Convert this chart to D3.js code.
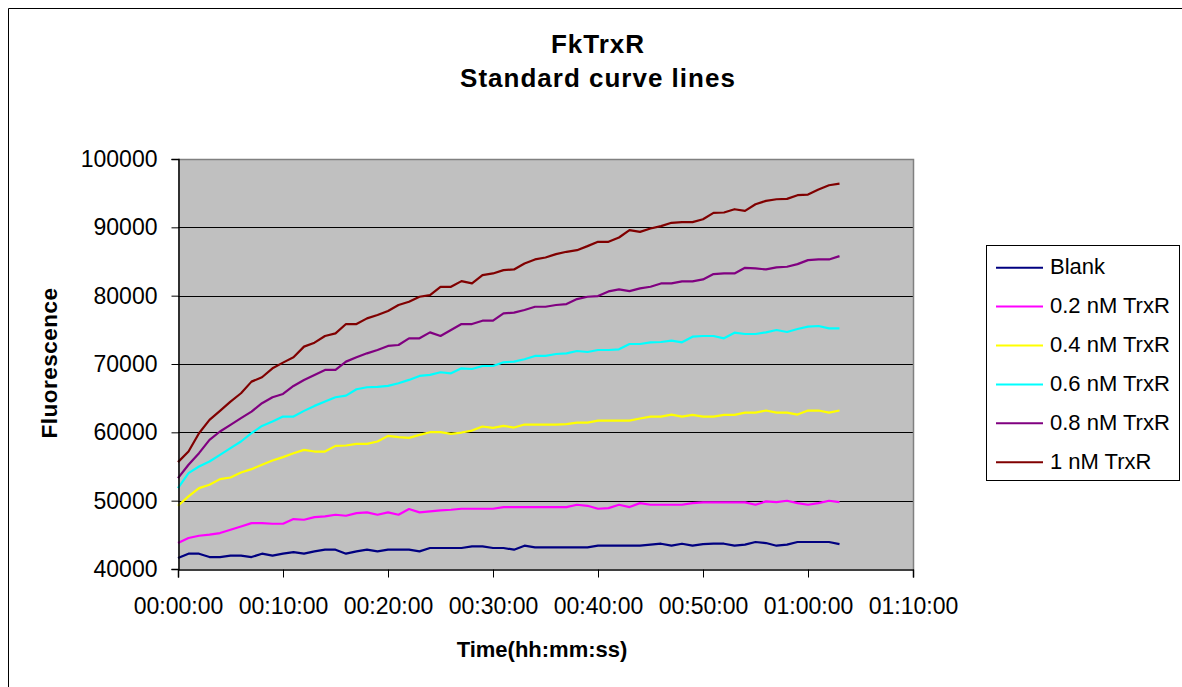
<!DOCTYPE html>
<html>
<head>
<meta charset="utf-8">
<script src="https://cdn.jsdelivr.net/npm/d3@7"></script>
<style>
  html, body { margin: 0; padding: 0; background: #fff; }
  svg { display: block; }
  text { font-family: "Liberation Sans", Arial, sans-serif; fill: #000; }
</style>
</head>
<body>
<svg id="chart" width="1182" height="687"></svg>
<script>
// ---- data (time in minutes, fluorescence values) ----
const minutes = [0,1,2,3,4,5,6,7,8,9,10,11,12,13,14,15,16,17,18,19,20,21,22,23,24,25,26,27,28,29,30,31,32,33,34,35,36,37,38,39,40,41,42,43,44,45,46,47,48,49,50,51,52,53,54,55,56,57,58,59,60,61,62,63];

const seriesNames = ["Blank", "0.2 nM TrxR", "0.4 nM TrxR", "0.6 nM TrxR", "0.8 nM TrxR", "1 nM TrxR"];
const seriesColors = ["#000080", "#FF00FF", "#FFFF00", "#00FFFF", "#800080", "#800000"];

const blank = [41600,42240,42240,41750,41750,41950,41950,41750,42240,41950,42240,42480,42240,42580,42830,42830,42240,42580,42830,42580,42830,42830,42830,42580,43070,43070,43070,43070,43310,43310,43070,43070,42830,43410,43170,43170,43170,43170,43170,43170,43410,43410,43410,43410,43410,43560,43700,43410,43700,43410,43650,43700,43700,43410,43560,43950,43800,43410,43560,43950,43950,43950,43950,43650];
const trxr02 = [43800,44530,44870,45020,45260,45750,46230,46720,46720,46620,46620,47310,47210,47600,47700,47940,47790,48180,48280,47940,48280,47940,48770,48280,48430,48570,48670,48820,48820,48820,48820,49060,49060,49060,49060,49060,49060,49060,49400,49250,48820,48910,49400,49060,49640,49400,49400,49400,49400,49640,49740,49740,49740,49740,49740,49400,49890,49790,49990,49640,49400,49640,49990,49790];
const trxr04 = [49260,50620,51840,52320,53150,53390,54130,54610,55250,55880,56370,56950,57440,57190,57190,58020,58070,58310,58310,58660,59480,59290,59190,59630,60020,60020,59780,59970,60260,60850,60650,60950,60700,61140,61140,61140,61140,61190,61430,61430,61720,61720,61720,61720,62020,62310,62310,62600,62310,62550,62310,62310,62550,62550,62890,62890,63190,62890,62890,62600,63190,63190,62890,63190];
const trxr06 = [51840,54030,55000,55730,56710,57680,58660,59870,60940,61580,62310,62310,63140,63870,64500,65130,65380,66300,66600,66640,66790,67180,67670,68250,68400,68790,68640,69370,69270,69710,69710,70250,70350,70690,71180,71180,71460,71560,71900,71760,72050,72050,72150,72930,72930,73170,73220,73410,73170,74000,74100,74100,73760,74580,74390,74390,74630,74970,74680,75120,75460,75560,75220,75220];
const trxr08 = [53300,55250,56950,58900,60120,61090,62070,63040,64260,65130,65620,66790,67670,68400,69130,69130,70350,70980,71560,72050,72640,72780,73760,73760,74630,74100,74970,75850,75850,76340,76340,77410,77510,77900,78380,78380,78630,78770,79500,79840,79940,80620,80920,80670,81060,81300,81790,81790,82080,82080,82380,83160,83250,83250,84080,83990,83840,84130,84230,84620,85200,85300,85300,85790];
const trxr10 = [55640,57200,59870,61820,63140,64500,65720,67420,68060,69370,70200,70980,72540,73120,74100,74490,75850,75850,76680,77170,77750,78630,79110,79840,80090,81300,81300,82130,81790,83010,83250,83740,83840,84710,85300,85590,86080,86420,86660,87250,87880,87880,88510,89590,89340,89830,90170,90660,90760,90760,91190,92120,92170,92650,92410,93380,93870,94110,94160,94700,94800,95530,96160,96400];

const xTicks = [0, 10, 20, 30, 40, 50, 60, 70];
const yTicks = [40000, 50000, 60000, 70000, 80000, 90000, 100000];

const titleLines = ["FkTrxR", "Standard curve lines"];
const xTitle = "Time(hh:mm:ss)";
const yTitle = "Fluorescence";

// ---- layout ----
const svg = d3.select("#chart");
const W = 1182, H = 687;
const plot = { left: 178, top: 159, right: 913, bottom: 569 };

svg.append("rect").attr("x", 0).attr("y", 0).attr("width", W).attr("height", H).attr("fill", "#fff");
// outer chart frame (only top/left edges visible)
svg.append("path").attr("d", `M8.5,${H} L8.5,8.5 L${W},8.5`).attr("fill", "none").attr("stroke", "#000").attr("stroke-width", 1);

const x = d3.scaleLinear().domain([0, 70]).range([plot.left, plot.right]);
const y = d3.scaleLinear().domain([40000, 100000]).range([plot.bottom, plot.top]);

// plot background
svg.append("rect")
  .attr("x", plot.left).attr("y", plot.top)
  .attr("width", plot.right - plot.left).attr("height", plot.bottom - plot.top)
  .attr("fill", "#C0C0C0");

// gridlines
svg.append("g").selectAll("line")
  .data(yTicks.filter(v => v > 40000 && v < 100000))
  .join("line")
  .attr("x1", plot.left).attr("x2", plot.right)
  .attr("y1", d => Math.round(y(d)) + 0.5).attr("y2", d => Math.round(y(d)) + 0.5)
  .attr("stroke", "#000").attr("stroke-width", 1);

// plot border top/right (gray)
svg.append("path")
  .attr("d", `M${plot.left},${plot.top + 0.5} L${plot.right + 0.5},${plot.top + 0.5} L${plot.right + 0.5},${plot.bottom}`)
  .attr("fill", "none").attr("stroke", "#808080").attr("stroke-width", 1.5);

// series
const allSeries = [blank, trxr02, trxr04, trxr06, trxr08, trxr10];
const line = d3.line().x((d, i) => x(minutes[i])).y(d => y(d)).curve(d3.curveLinear);
svg.append("g").selectAll("path")
  .data(allSeries)
  .join("path")
  .attr("d", d => line(d))
  .attr("fill", "none")
  .attr("stroke", (d, i) => seriesColors[i])
  .attr("stroke-width", 2.2)
  .attr("stroke-linejoin", "round");

// axes
const fmtTime = m => {
  const hh = Math.floor(m / 60), mm = m % 60;
  return String(hh).padStart(2, "0") + ":" + String(mm).padStart(2, "0") + ":00";
};

const yAxis = d3.axisLeft(y).tickValues(yTicks).tickSize(7).tickPadding(14).tickFormat(d3.format("d"));
const gy = svg.append("g").attr("transform", `translate(${plot.left + 0.5},0)`).call(yAxis);
gy.select(".domain").attr("stroke", "#000").attr("stroke-width", 1.5);
gy.selectAll(".tick line").attr("stroke", "#000");
gy.selectAll(".tick text").attr("font-size", 23).attr("font-family", "'Liberation Sans', Arial, sans-serif").attr("dy", "0.33em");

const xAxis = d3.axisBottom(x).tickValues(xTicks).tickSize(8).tickPadding(20).tickFormat(fmtTime);
const gx = svg.append("g").attr("transform", `translate(0,${plot.bottom + 0.5})`).call(xAxis);
gx.select(".domain").attr("stroke", "#000").attr("stroke-width", 1.5);
gx.selectAll(".tick line").attr("stroke", "#000");
gx.selectAll(".tick text").attr("font-size", 23).attr("font-family", "'Liberation Sans', Arial, sans-serif");

// titles
svg.append("text").attr("x", 598).attr("y", 53).attr("text-anchor", "middle")
  .attr("font-size", 26).attr("font-weight", "bold").attr("letter-spacing", "1px").text(titleLines[0]);
svg.append("text").attr("x", 598).attr("y", 87).attr("text-anchor", "middle")
  .attr("font-size", 26).attr("font-weight", "bold").attr("letter-spacing", "1px").text(titleLines[1]);

svg.append("text").attr("x", 542).attr("y", 657).attr("text-anchor", "middle")
  .attr("font-size", 22).attr("font-weight", "bold").text(xTitle);

svg.append("text").attr("transform", "translate(56.5,363) rotate(-90)").attr("text-anchor", "middle")
  .attr("font-size", 22.5).attr("font-weight", "bold").attr("letter-spacing", "0.5px").text(yTitle);

// legend
const legend = svg.append("g");
legend.append("rect").attr("x", 986.5).attr("y", 245.5).attr("width", 193).attr("height", 235)
  .attr("fill", "#fff").attr("stroke", "#000").attr("stroke-width", 1);
const items = legend.selectAll("g.item").data(seriesNames).join("g").attr("class", "item")
  .attr("transform", (d, i) => `translate(0,${267.7 + i * 38.9})`);
items.append("line").attr("x1", 996).attr("x2", 1043).attr("y1", 0).attr("y2", 0)
  .attr("stroke", (d, i) => seriesColors[i]).attr("stroke-width", 2);
items.append("text").attr("x", 1050).attr("y", 6.5).attr("font-size", 22).text(d => d);
</script>
</body>
</html>
